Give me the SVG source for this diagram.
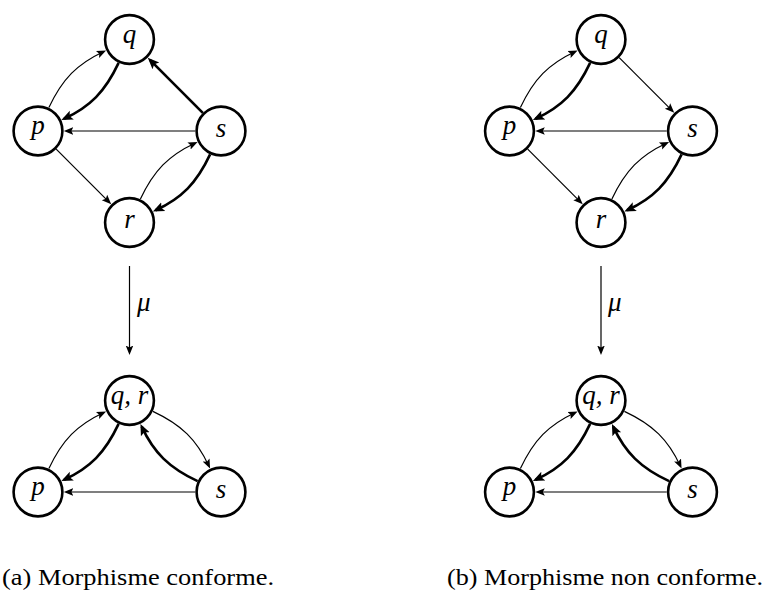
<svg xmlns="http://www.w3.org/2000/svg" width="768" height="590" viewBox="0 0 768 590">
<style>
.thin{fill:none;stroke:#000;stroke-width:1.2;marker-end:url(#ah)}
.thick{fill:none;stroke:#000;stroke-width:2.6;marker-end:url(#ahk)}
.node circle{fill:#fff;stroke:#000;stroke-width:2.6}
.lbl{font-family:'Liberation Serif','DejaVu Serif',serif;font-style:italic;font-size:27px;text-anchor:middle;fill:#000}
.mu{font-family:'Liberation Serif','DejaVu Serif',serif;font-style:italic;font-size:27px;fill:#000}
.cap{font-family:'Liberation Serif','DejaVu Serif',serif;font-size:24px;fill:#000}
</style>
<defs>
<marker id="ah" markerUnits="userSpaceOnUse" viewBox="0 -5 12 10" markerWidth="12" markerHeight="10" refX="6.5" refY="0" orient="auto">
<path d="M0,-3.8 L9.5,0 L0,3.8 L1.9,0 z" fill="#000"/>
</marker>
<marker id="ahk" markerUnits="userSpaceOnUse" viewBox="0 -6 14 12" markerWidth="14" markerHeight="12" refX="8.5" refY="0" orient="auto">
<path d="M0,-4.8 L11.5,0 L0,4.8 L2.4,0 z" fill="#000"/>
</marker>
</defs>

<g id="a-top" transform="translate(129.5,131)">
<g id="a-top-connectors">
<path class="thin" d="M-80.6,-23.4 C-67.2,-52.1 -52.1,-67.2 -26.1,-79.3"/>
<path class="thick" d="M-10.9,-68.1 C-24.3,-39.4 -39.4,-24.3 -65.4,-12.2"/>
<path class="thick" d="M73.3,-18.2 L20.4,-71.1"/>
<path class="thin" d="M65.7,0 L-62.7,0"/>
<path class="thin" d="M-73.3,18.2 L-20.4,71.1"/>
<path class="thin" d="M10.9,68.1 C24.3,39.4 39.4,24.3 65.4,12.2"/>
<path class="thick" d="M80.6,23.4 C67.2,52.1 52.1,67.2 26.1,79.3"/>
</g>
<g id="a-top-q" class="node"><circle cx="0" cy="-91.5" r="24.4"/><text class="lbl" x="0" y="-88.5">q</text></g>
<g id="a-top-p" class="node"><circle cx="-91.5" cy="0" r="24.4"/><text class="lbl" x="-91.5" y="3">p</text></g>
<g id="a-top-s" class="node"><circle cx="91.5" cy="0" r="24.4"/><text class="lbl" x="91.5" y="5.5">s</text></g>
<g id="a-top-r" class="node"><circle cx="0" cy="91.5" r="24.4"/><text class="lbl" x="0" y="97">r</text></g>
</g>

<g id="b-top" transform="translate(601,131)">
<g id="b-top-connectors">
<path class="thin" d="M-80.6,-23.4 C-67.2,-52.1 -52.1,-67.2 -26.1,-79.3"/>
<path class="thick" d="M-10.9,-68.1 C-24.3,-39.4 -39.4,-24.3 -65.4,-12.2"/>
<path class="thin" d="M18.2,-73.3 L71.1,-20.4"/>
<path class="thin" d="M65.7,0 L-62.7,0"/>
<path class="thin" d="M-73.3,18.2 L-20.4,71.1"/>
<path class="thin" d="M10.9,68.1 C24.3,39.4 39.4,24.3 65.4,12.2"/>
<path class="thick" d="M80.6,23.4 C67.2,52.1 52.1,67.2 26.1,79.3"/>
</g>
<g id="b-top-q" class="node"><circle cx="0" cy="-91.5" r="24.4"/><text class="lbl" x="0" y="-88.5">q</text></g>
<g id="b-top-p" class="node"><circle cx="-91.5" cy="0" r="24.4"/><text class="lbl" x="-91.5" y="3">p</text></g>
<g id="b-top-s" class="node"><circle cx="91.5" cy="0" r="24.4"/><text class="lbl" x="91.5" y="5.5">s</text></g>
<g id="b-top-r" class="node"><circle cx="0" cy="91.5" r="24.4"/><text class="lbl" x="0" y="97">r</text></g>
</g>

<g id="mu-connectors">
<path class="thin" d="M129.5,266 L129.5,352"/>
<path class="thin" d="M601,266 L601,352"/>
</g>
<text class="mu" x="137" y="311">μ</text>
<text class="mu" x="608" y="311">μ</text>

<g id="a-bot" transform="translate(129.5,492)">
<g id="a-bot-connectors">
<path class="thin" d="M-80.6,-23.4 C-67.2,-52.1 -52.1,-67.2 -26.1,-79.3"/>
<path class="thick" d="M-10.9,-68.1 C-24.3,-39.4 -39.4,-24.3 -65.4,-12.2"/>
<path class="thin" d="M23.4,-80.6 C52.1,-67.2 67.2,-52.1 79.3,-26.1"/>
<path class="thick" d="M68.1,-10.9 C39.4,-24.3 24.3,-39.4 12.2,-65.4"/>
<path class="thin" d="M65.7,0 L-62.7,0"/>
</g>
<g id="a-bot-qr" class="node"><circle cx="0" cy="-91.5" r="24.4"/><text class="lbl" x="0" y="-88.5">q, r</text></g>
<g id="a-bot-p" class="node"><circle cx="-91.5" cy="0" r="24.4"/><text class="lbl" x="-91.5" y="3">p</text></g>
<g id="a-bot-s" class="node"><circle cx="91.5" cy="0" r="24.4"/><text class="lbl" x="91.5" y="5.5">s</text></g>
</g>

<g id="b-bot" transform="translate(601,492)">
<g id="b-bot-connectors">
<path class="thin" d="M-80.6,-23.4 C-67.2,-52.1 -52.1,-67.2 -26.1,-79.3"/>
<path class="thick" d="M-10.9,-68.1 C-24.3,-39.4 -39.4,-24.3 -65.4,-12.2"/>
<path class="thin" d="M23.4,-80.6 C52.1,-67.2 67.2,-52.1 79.3,-26.1"/>
<path class="thick" d="M68.1,-10.9 C39.4,-24.3 24.3,-39.4 12.2,-65.4"/>
<path class="thin" d="M65.7,0 L-62.7,0"/>
</g>
<g id="b-bot-qr" class="node"><circle cx="0" cy="-91.5" r="24.4"/><text class="lbl" x="0" y="-88.5">q, r</text></g>
<g id="b-bot-p" class="node"><circle cx="-91.5" cy="0" r="24.4"/><text class="lbl" x="-91.5" y="3">p</text></g>
<g id="b-bot-s" class="node"><circle cx="91.5" cy="0" r="24.4"/><text class="lbl" x="91.5" y="5.5">s</text></g>
</g>

<text class="cap" x="2" y="585" textLength="272" lengthAdjust="spacingAndGlyphs">(a) Morphisme conforme.</text>
<text class="cap" x="447" y="585" textLength="316" lengthAdjust="spacingAndGlyphs">(b) Morphisme non conforme.</text>
</svg>
